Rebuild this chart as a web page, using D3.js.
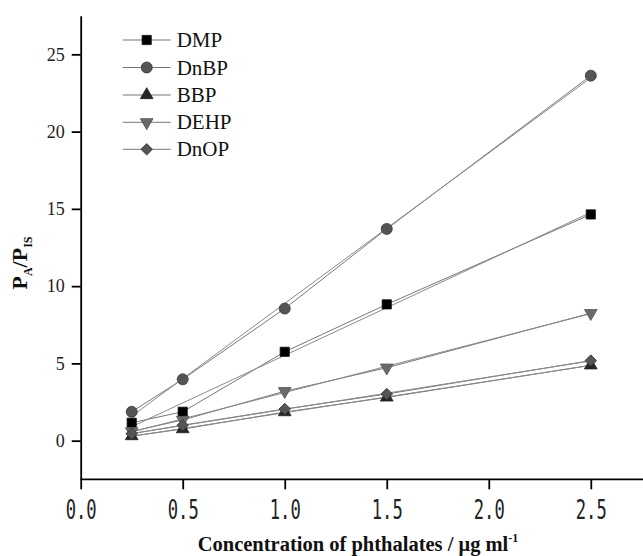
<!DOCTYPE html>
<html><head><meta charset="utf-8">
<script src="https://cdn.jsdelivr.net/npm/d3@7"></script>
<style>body{margin:0;background:#fff}svg{display:block}</style>
</head><body>
<svg id="c" width="643" height="556"></svg>
<script>
const concentrations = [0.25, 0.5, 1.0, 1.5, 2.5];
const seriesNames = ["DMP", "DnBP", "BBP", "DEHP", "DnOP"];
const DMP  = [1.16, 1.87, 5.75, 8.82, 14.64];
const DnBP = [1.87, 3.97, 8.55, 13.70, 23.62];
const BBP  = [0.30, 0.75, 1.85, 2.80, 4.88];
const DEHP = [0.60, 1.34, 3.20, 4.72, 8.25];
const DnOP = [0.45, 1.00, 2.05, 3.02, 5.18];
// linear-fit line values read at x=0.25 and x=2.5
const fitX = [0.25, 2.5];
const fitDMP  = [0.90, 14.77];
const fitDnBP = [1.58, 23.48];
const fitBBP  = [0.28, 4.87];
const fitDEHP = [0.56, 8.22];
const fitDnOP = [0.46, 5.16];
const xMajorTicks = [0.0, 0.5, 1.0, 1.5, 2.0, 2.5];
const xMinorTicks = [0.25, 0.75, 1.25, 1.75, 2.25, 2.75];
const yMajorTicks = [0, 5, 10, 15, 20, 25];
const yMinorTicks = [-2.5, 2.5, 7.5, 12.5, 17.5, 22.5, 27.5];

const seriesValues = {DMP, DnBP, BBP, DEHP, DnOP};
const seriesFits = {DMP: fitDMP, DnBP: fitDnBP, BBP: fitBBP, DEHP: fitDEHP, DnOP: fitDnOP};

const svg = d3.select("#c");
const x = d3.scaleLinear().domain([0, 2.75]).range([80.7, 641.8]);
const y = d3.scaleLinear().domain([-2.5, 27.5]).range([479.3, 15.7]);

const styles = {
  DMP:  {shape: d3.symbolSquare,   size: 85,  fill: "#000",    stroke: "#111", rot: 0},
  DnBP: {shape: d3.symbolCircle,   size: 95,  fill: "#555",    stroke: "#333", rot: 0},
  BBP:  {shape: d3.symbolTriangle, size: 70,  fill: "#262626", stroke: "#222", rot: 0},
  DEHP: {shape: d3.symbolTriangle, size: 70,  fill: "#6a6a6a", stroke: "#555", rot: 180},
  DnOP: {shape: d3.symbolSquare,   size: 66,  fill: "#555",    stroke: "#333", rot: 45}
};

// axes
const axisColor = "#000";
const gx = svg.append("g").attr("transform", `translate(0,${y(-2.5)})`);
gx.call(d3.axisBottom(x).tickValues(xMinorTicks).tickSize(6).tickFormat("").tickSizeOuter(0));
gx.call(d3.axisBottom(x).tickValues(xMajorTicks).tickSize(10).tickSizeOuter(0)
  .tickFormat(d3.format(".1f")).tickPadding(8));
gx.select(".domain").attr("d", `M${x(0)},0H643`);
gx.selectAll("line").attr("stroke-width", 1.8).attr("stroke", axisColor);
gx.selectAll(".domain").attr("stroke-width", 1.8).attr("stroke", axisColor);
gx.selectAll("text").attr("font-family", "'DejaVu Sans Mono', monospace")
  .attr("font-size", 26).attr("fill", "#222").attr("dy", "0.83em")
  .attr("textLength", 31).attr("lengthAdjust", "spacingAndGlyphs");

const gy = svg.append("g").attr("transform", `translate(${x(0)},0)`);
gy.call(d3.axisLeft(y).tickValues(yMinorTicks).tickSize(5).tickFormat("").tickSizeOuter(0));
gy.call(d3.axisLeft(y).tickValues(yMajorTicks).tickSize(9).tickSizeOuter(0).tickPadding(7));
gy.selectAll("line").attr("stroke-width", 1.8).attr("stroke", axisColor);
gy.selectAll(".domain").attr("stroke-width", 1.8).attr("stroke", axisColor);
gy.selectAll("text").attr("font-family", "'Liberation Serif', 'Times New Roman', serif")
  .attr("font-size", 18).attr("fill", "#222");

// axis titles
const xt = svg.append("text").attr("x", 358).attr("y", 551).attr("text-anchor", "middle")
  .attr("font-family", "'Liberation Serif', serif").attr("font-weight", "bold").attr("font-size", 20.5)
  .attr("fill", "#111");
xt.append("tspan").text("Concentration of phthalates / \u03bcg ml");
xt.append("tspan").attr("font-size", 12).attr("dy", -9).text("-1");

const yt = svg.append("text").attr("transform", "translate(27,263) rotate(-90)").attr("text-anchor", "middle")
  .attr("font-family", "'Liberation Serif', serif").attr("font-weight", "bold").attr("font-size", 22)
  .attr("fill", "#111");
yt.append("tspan").text("P");
yt.append("tspan").attr("font-size", 12).attr("dy", 5).text("A");
yt.append("tspan").attr("dy", -5).text("/P");
yt.append("tspan").attr("font-size", 12).attr("dy", 5).text("IS");

// lines
const line = d3.line().x(d => x(d[0])).y(d => y(d[1]));
seriesNames.forEach(name => {
  const vals = seriesValues[name];
  svg.append("path").datum(concentrations.map((c, i) => [c, vals[i]]))
    .attr("d", line).attr("fill", "none").attr("stroke", "#777").attr("stroke-width", 1);
  const f = seriesFits[name];
  svg.append("path").datum(fitX.map((c, i) => [c, f[i]]))
    .attr("d", line).attr("fill", "none").attr("stroke", "#8a8a8a").attr("stroke-width", 1);
});

// markers
seriesNames.forEach(name => {
  const st = styles[name];
  const vals = seriesValues[name];
  svg.append("g").selectAll("path").data(concentrations.map((c, i) => [c, vals[i]])).join("path")
    .attr("d", d3.symbol().type(st.shape).size(st.size))
    .attr("transform", d => `translate(${x(d[0])},${y(d[1])}) rotate(${st.rot})`)
    .attr("fill", st.fill).attr("stroke", st.stroke).attr("stroke-width", 0.8);
});

// legend
const legendY = [40, 67.5, 95, 122.3, 149.3];
seriesNames.forEach((name, i) => {
  const st = styles[name];
  const g = svg.append("g").attr("transform", `translate(0,${legendY[i]})`);
  g.append("line").attr("x1", 122.7).attr("x2", 170.7).attr("y1", 0).attr("y2", 0)
    .attr("stroke", "#777").attr("stroke-width", 1);
  g.append("path").attr("d", d3.symbol().type(st.shape).size(st.size)())
    .attr("transform", `translate(146.7,0) rotate(${st.rot})`)
    .attr("fill", st.fill).attr("stroke", st.stroke).attr("stroke-width", 0.8);
  g.append("text").attr("x", 176.7).attr("y", 7).text(name)
    .attr("font-family", "'Liberation Serif', serif").attr("font-size", 21).attr("fill", "#111");
});
</script>
</body></html>
